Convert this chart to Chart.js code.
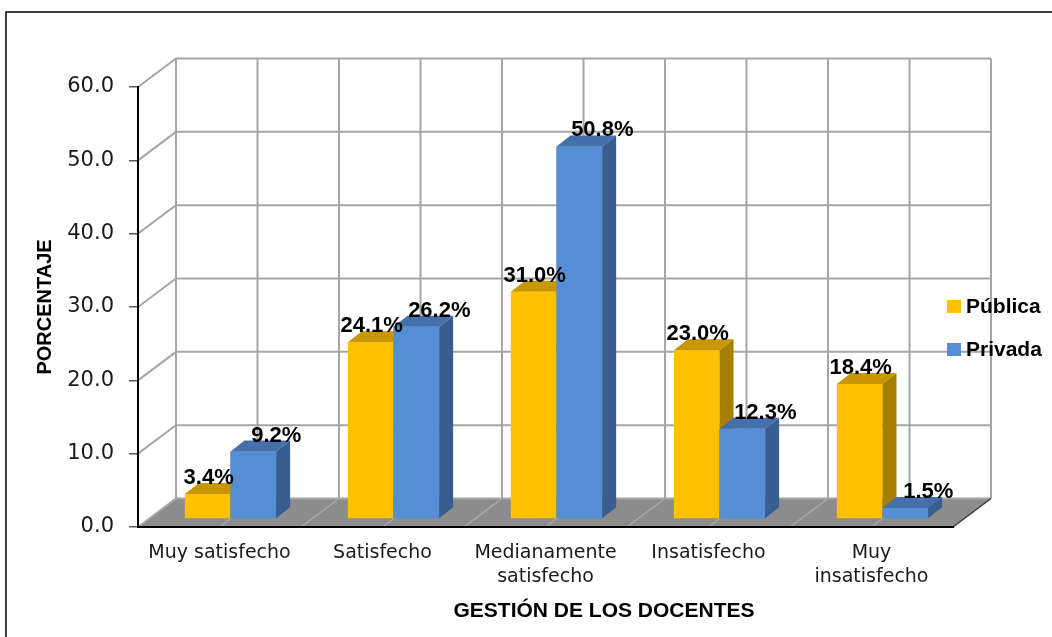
<!DOCTYPE html>
<html>
<head>
<meta charset="utf-8">
<title>Gestión de los docentes</title>
<script src="https://cdn.jsdelivr.net/npm/chart.js@4.4.1/dist/chart.umd.min.js"></script>
<style>
  html, body { margin: 0; padding: 0; background: #fff; }
  #chart { display: block; }
</style>
</head>
<body>
<canvas id="chart" width="1052" height="637"></canvas>
<script>
'use strict';

let categories = ['Muy satisfecho', 'Satisfecho', ['Medianamente', 'satisfecho'], 'Insatisfecho', ['Muy', 'insatisfecho']];
let seriesNames = ['Pública', 'Privada'];
let publicaValues = [3.4, 24.1, 31.0, 23.0, 18.4];
let privadaValues = [9.2, 26.2, 50.8, 12.3, 1.5];
let yTickValues = [0, 10, 20, 30, 40, 50, 60];

// front / top / side colours for the fake 3d look
let frontColors = ['#FFC000', '#558ED5'];
let topColors = ['#C89700', '#4470AC'];
let sideColors = ['#A67E00', '#375E8E'];

// depth offsets in px
const BACK_DX = 38, BACK_DY = -28.5;
const BAR_DX = 11, BAR_DY = -8;
const SIDE_DX = 14, SIDE_DY = -11;
const LABEL_SHIFT = [1, 23];

let canvasElem = document.getElementById('chart');

let wallPlugin = {
  id: 'wall',
  beforeDraw(chart) {
    let ctx = chart.ctx;
    let area = chart.chartArea;
    let yScale = chart.scales.y;
    let y0 = yScale.getPixelForValue(0);
    let half = (area.right - area.left) / categories.length / 2;

    ctx.save();
    ctx.strokeStyle = '#000';
    ctx.lineWidth = 1.5;
    ctx.strokeRect(6, 12, 1100, 700);

    // floor
    ctx.fillStyle = '#8C8C8C';
    ctx.beginPath();
    ctx.moveTo(area.left, y0);
    ctx.lineTo(area.right, y0);
    ctx.lineTo(area.right + BACK_DX, y0 + BACK_DY);
    ctx.lineTo(area.left + BACK_DX, y0 + BACK_DY);
    ctx.closePath();
    ctx.fill();

    ctx.strokeStyle = '#A9A9A9';
    ctx.lineWidth = 1.5;
    for (let k = 1; k < categories.length * 2; k++) {
      let fx = area.left + k * half;
      ctx.beginPath();
      ctx.moveTo(fx, y0);
      ctx.lineTo(fx + BACK_DX, y0 + BACK_DY);
      ctx.stroke();
    }

    // back wall verticals
    let yTop = yScale.getPixelForValue(yTickValues[yTickValues.length - 1]);
    ctx.strokeStyle = '#A6A6A6';
    ctx.lineWidth = 2;
    for (let k = 0; k <= categories.length * 2; k++) {
      let bx = area.left + k * half + BACK_DX;
      ctx.beginPath();
      ctx.moveTo(bx, y0 + BACK_DY);
      ctx.lineTo(bx, yTop + BACK_DY);
      ctx.stroke();
    }

    // horizontal grid on back wall + left side wall
    for (let i = 0; i < yTickValues.length; i++) {
      let py = yScale.getPixelForValue(yTickValues[i]);
      ctx.beginPath();
      ctx.moveTo(area.left, py);
      ctx.lineTo(area.left + BACK_DX, py + BACK_DY);
      ctx.lineTo(area.right + BACK_DX, py + BACK_DY);
      ctx.stroke();
    }

    // right edge of the floor
    ctx.strokeStyle = '#3A3A3A';
    ctx.lineWidth = 1.5;
    ctx.beginPath();
    ctx.moveTo(area.right, y0);
    ctx.lineTo(area.right + BACK_DX, y0 + BACK_DY);
    ctx.stroke();
    ctx.restore();
  },
  beforeDatasetsDraw(chart) {
    chart.ctx.save();
    chart.ctx.translate(BAR_DX, BAR_DY);
  },
  afterDatasetsDraw(chart) {
    let ctx = chart.ctx;
    for (let d = 0; d < chart.data.datasets.length; d++) {
      let meta = chart.getDatasetMeta(d);
      meta.data.forEach(function(el) {
        if (d > 0) el.draw(ctx); // later series covers earlier side faces
        let p = el.getProps(['x', 'y', 'base', 'width'], true);
        let l = p.x - p.width / 2, r = p.x + p.width / 2;
        ctx.fillStyle = topColors[d];
        ctx.beginPath();
        ctx.moveTo(l, p.y);
        ctx.lineTo(r, p.y);
        ctx.lineTo(r + SIDE_DX, p.y + SIDE_DY);
        ctx.lineTo(l + SIDE_DX, p.y + SIDE_DY);
        ctx.closePath();
        ctx.fill();
        ctx.fillStyle = sideColors[d];
        ctx.beginPath();
        ctx.moveTo(r, p.y);
        ctx.lineTo(r + SIDE_DX, p.y + SIDE_DY);
        ctx.lineTo(r + SIDE_DX, p.base + SIDE_DY);
        ctx.lineTo(r, p.base);
        ctx.closePath();
        ctx.fill();
      });
    }
    ctx.restore();
  },
  afterDraw(chart) {
    let ctx = chart.ctx;
    ctx.save();
    ctx.fillStyle = '#000';

    // value labels
    ctx.font = 'bold 22px "Liberation Sans", Arial, sans-serif';
    ctx.textAlign = 'center';
    ctx.textBaseline = 'alphabetic';
    for (let d = 0; d < chart.data.datasets.length; d++) {
      let meta = chart.getDatasetMeta(d);
      let vals = chart.data.datasets[d].data;
      meta.data.forEach(function(el, i) {
        ctx.fillText(vals[i].toFixed(1) + '%', el.x + BAR_DX + LABEL_SHIFT[d], el.y + BAR_DY + SIDE_DY + 1);
      });
    }

    // x axis title
    ctx.font = 'bold 21px "Liberation Sans", Arial, sans-serif';
    ctx.fillText('GESTIÓN DE LOS DOCENTES', 604, 617);

    // legend
    ctx.textAlign = 'left';
    ctx.textBaseline = 'middle';
    for (let d = 0; d < seriesNames.length; d++) {
      let ly = 307 + d * 43;
      ctx.fillStyle = frontColors[d];
      ctx.fillRect(947, ly - 7, 14, 13);
      ctx.fillStyle = '#000';
      ctx.fillText(seriesNames[d], 966, ly);
    }
    ctx.restore();
  }
};

let chartObj = {
  type: 'bar',
  data: {
    labels: categories,
    datasets: [{
      label: seriesNames[0],
      data: publicaValues,
      backgroundColor: frontColors[0],
      borderWidth: 0
    },
    {
      label: seriesNames[1],
      data: privadaValues,
      backgroundColor: frontColors[1],
      borderWidth: 0
    }]
  },
  options: {
    responsive: false,
    animation: false,
    categoryPercentage: 0.56,
    barPercentage: 1.0,
    layout: {
      padding: { left: 0, top: 87, right: 99, bottom: 0 }
    },
    scales: {
      x: {
        grid: { display: false, drawTicks: false },
        border: { display: true, color: '#000', width: 2 },
        ticks: {
          color: '#1a1a1a',
          padding: 14,
          maxRotation: 0,
          autoSkip: false,
          font: { family: '"DejaVu Sans", sans-serif', size: 19, lineHeight: 1.26 }
        },
        afterFit(scale) { scale.height = 110; }
      },
      y: {
        min: 0,
        max: 60,
        afterBuildTicks(scale) {
          scale.ticks = yTickValues.map(v => ({ value: v }));
        },
        grid: { drawOnChartArea: false, drawTicks: true, tickLength: 9, color: '#595959', lineWidth: 1.5 },
        border: { display: true, color: '#000', width: 2 },
        ticks: {
          color: '#1a1a1a',
          padding: 15,
          font: { family: '"DejaVu Sans", sans-serif', size: 21 },
          callback: v => v.toFixed(1)
        },
        title: {
          display: true,
          text: 'PORCENTAJE',
          color: '#000',
          padding: { top: 33, bottom: 0 },
          font: { family: '"Liberation Sans", Arial, sans-serif', size: 20, weight: 'bold' }
        },
        afterFit(scale) { scale.width = 138; }
      }
    },
    plugins: {
      legend: { display: false },
      tooltip: { enabled: false }
    }
  },
  plugins: [wallPlugin]
};

new Chart(canvasElem, chartObj);
</script>
</body>
</html>
